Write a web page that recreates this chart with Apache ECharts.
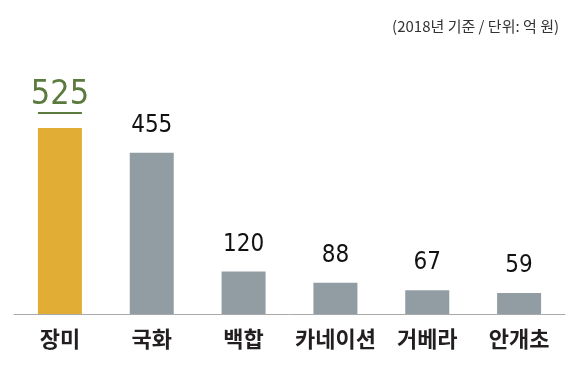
<!DOCTYPE html>
<html><head><meta charset="utf-8">
<script src="https://cdn.jsdelivr.net/npm/echarts@6/dist/echarts.min.js"></script>
<style>html,body{margin:0;padding:0;background:#fff}#c{width:586px;height:375px}</style>
</head><body><div id="c"></div>
<script>
const categories = ['장미', '국화', '백합', '카네이션', '거베라', '안개초'];
const values = [525, 455, 120, 88, 67, 59];
const note = '(2018년 기준 / 단위: 억 원)';

const chart = echarts.init(document.getElementById('c'), null, {renderer: 'canvas'});
const numFont = '"DejaVu Sans Condensed", sans-serif';
chart.setOption({
  animation: false,
  title: {
    text: note, right: 22, top: 14,
    textStyle: {fontFamily: '"Noto Sans CJK KR", sans-serif', fontSize: 15, fontWeight: 'normal', color: '#333'}
  },
  grid: {left: 14, right: 21, top: 128, bottom: 61},
  xAxis: {
    type: 'category', data: categories,
    axisLine: {lineStyle: {color: '#a9a9a9', width: 1}},
    axisTick: {show: false},
    axisLabel: {interval: 0, margin: 14, fontFamily: '"Noto Sans CJK KR", sans-serif', fontSize: 22, fontWeight: 'bold', color: '#231f20'}
  },
  yAxis: {type: 'value', min: 0, max: 525, show: false, splitLine: {show: false}},
  series: [{
    type: 'bar', barWidth: 44,
    data: values.map((v, i) => i === 0 ? {
      value: v,
      itemStyle: {color: '#E2AD34'},
      label: {
        distance: 12,
        formatter: '{v|{c}}\n{u|}',
        rich: {
          v: {fontFamily: numFont, fontWeight: 'normal', fontSize: 34, color: '#5B7A3E', lineHeight: 29, align: 'center'},
          u: {width: 44, height: 2, backgroundColor: '#5B7A3E', lineHeight: 6}
        }
      }
    } : {value: v}),
    itemStyle: {color: '#919DA3'},
    label: {
      show: true, position: 'top', distance: 15,
      fontFamily: numFont, fontWeight: 'normal', fontSize: 24, color: '#111'
    }
  }]
});
</script></body></html>
